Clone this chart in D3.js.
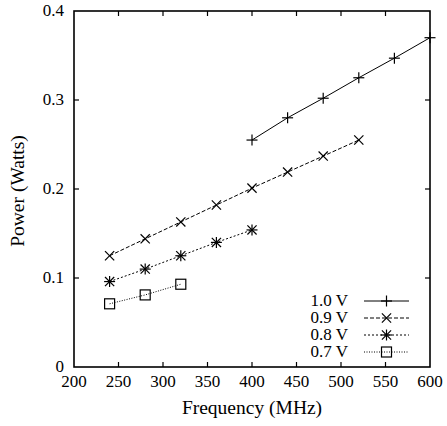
<!DOCTYPE html>
<html>
<head>
<meta charset="utf-8">
<script src="https://cdn.jsdelivr.net/npm/d3@7"></script>
<style>
  body { margin: 0; background: #fff; }
</style>
</head>
<body>
<svg id="chart"></svg>
<script>
// Power vs. frequency, one series per supply voltage

const xTicks = [200, 250, 300, 350, 400, 450, 500, 550, 600];
const yTicks = [0, 0.1, 0.2, 0.3, 0.4];

const freq10 = [400, 440, 480, 520, 560, 600];
const power10 = [0.255, 0.280, 0.302, 0.325, 0.347, 0.370];

const freq09 = [240, 280, 320, 360, 400, 440, 480, 520];
const power09 = [0.125, 0.144, 0.163, 0.182, 0.201, 0.219, 0.237, 0.255];

const freq08 = [240, 280, 320, 360, 400];
const power08 = [0.096, 0.110, 0.125, 0.140, 0.154];

const freq07 = [240, 280, 320];
const power07 = [0.071, 0.081, 0.093];

const labels = ["1.0 V", "0.9 V", "0.8 V", "0.7 V"];
const symbols = ["plus", "cross", "star", "square"];
const dashes = [null, "4,2", "2,2", "1,1.5"];

const series = [
  { label: labels[0], f: freq10, p: power10 },
  { label: labels[1], f: freq09, p: power09 },
  { label: labels[2], f: freq08, p: power08 },
  { label: labels[3], f: freq07, p: power07 }
].map((s, i) => ({ ...s, symbol: symbols[i], dash: dashes[i],
  points: s.f.map((f, j) => [f, s.p[j]]) }));

const width = 447, height = 426;
const margin = { top: 11, right: 17, bottom: 59, left: 74 };
const serif = "'Liberation Serif', 'Times New Roman', serif";

const svg = d3.select("#chart")
  .attr("width", width)
  .attr("height", height);

const x = d3.scaleLinear().domain([200, 600]).range([margin.left, width - margin.right]);
const y = d3.scaleLinear().domain([0, 0.4]).range([height - margin.bottom, margin.top]);

const tick = 5;

// ticks on all four sides, pointing inward
const tg = svg.append("g").attr("stroke", "#000").attr("stroke-width", 1.2);
tg.selectAll(".xb").data(xTicks.slice(1, -1)).join("line")
  .attr("x1", d => x(d)).attr("x2", d => x(d))
  .attr("y1", y(0)).attr("y2", y(0) - tick);
tg.selectAll(".xt").data(xTicks.slice(1, -1)).join("line")
  .attr("x1", d => x(d)).attr("x2", d => x(d))
  .attr("y1", y(0.4)).attr("y2", y(0.4) + tick);
tg.selectAll(".yl").data(yTicks.slice(1, -1)).join("line")
  .attr("x1", x(200)).attr("x2", x(200) + tick)
  .attr("y1", d => y(d)).attr("y2", d => y(d));
tg.selectAll(".yr").data(yTicks.slice(1, -1)).join("line")
  .attr("x1", x(600)).attr("x2", x(600) - tick)
  .attr("y1", d => y(d)).attr("y2", d => y(d));

// border
svg.append("rect")
  .attr("x", x(200)).attr("y", y(0.4))
  .attr("width", x(600) - x(200)).attr("height", y(0) - y(0.4))
  .attr("fill", "none").attr("stroke", "#000").attr("stroke-width", 1.6);

// tick labels
svg.append("g").selectAll("text").data(xTicks).join("text")
  .style("font-family", serif).style("font-size", "17px")
  .attr("text-anchor", "middle")
  .attr("x", d => x(d)).attr("y", y(0) + 20)
  .text(d => d);

svg.append("g").selectAll("text").data(yTicks).join("text")
  .style("font-family", serif).style("font-size", "17px")
  .attr("text-anchor", "end")
  .attr("x", x(200) - 10).attr("y", d => y(d)).attr("dy", "0.32em")
  .text(d => d === 0 ? "0" : d3.format(".1f")(d));

// axis titles
svg.append("text")
  .style("font-family", serif).style("font-size", "19.5px")
  .attr("x", (x(200) + x(600)) / 2).attr("y", height - 12)
  .attr("text-anchor", "middle")
  .text("Frequency (MHz)");

svg.append("text")
  .style("font-family", serif).style("font-size", "19.5px")
  .attr("transform", `translate(24,191) rotate(-90)`)
  .attr("text-anchor", "middle")
  .text("Power (Watts)");

function drawSymbol(g, type, cx, cy) {
  const s = 5.5;
  if (type === "plus" || type === "star") {
    g.append("line").attr("x1", cx - s).attr("x2", cx + s).attr("y1", cy).attr("y2", cy);
    g.append("line").attr("x1", cx).attr("x2", cx).attr("y1", cy - s).attr("y2", cy + s);
  }
  if (type === "cross" || type === "star") {
    const c = 4.6;
    g.append("line").attr("x1", cx - c).attr("x2", cx + c).attr("y1", cy - c).attr("y2", cy + c);
    g.append("line").attr("x1", cx - c).attr("x2", cx + c).attr("y1", cy + c).attr("y2", cy - c);
  }
  if (type === "square") {
    g.append("rect").attr("x", cx - 5).attr("y", cy - 5).attr("width", 10).attr("height", 10)
      .attr("fill", "none");
  }
}

const line = d3.line().x(d => x(d[0])).y(d => y(d[1]));

series.forEach(s => {
  const g = svg.append("g").attr("stroke", "#000").attr("stroke-width", 1).attr("fill", "none");
  g.append("path").attr("d", line(s.points)).attr("stroke-dasharray", s.dash);
  const mg = g.append("g").attr("stroke-width", 1.2);
  s.points.forEach(d => drawSymbol(mg, s.symbol, x(d[0]), y(d[1])));
});

// legend
const lx = 348, ly = 301, step = 17;
series.forEach((s, i) => {
  const yy = ly + i * step;
  svg.append("text").attr("x", lx).attr("y", yy).attr("dy", "0.32em")
    .style("font-family", serif).style("font-size", "17px")
    .attr("text-anchor", "end").text(s.label);
  const g = svg.append("g").attr("stroke", "#000").attr("stroke-width", 1).attr("fill", "none");
  g.append("line").attr("x1", 364).attr("x2", 409).attr("y1", yy).attr("y2", yy)
    .attr("stroke-dasharray", s.dash);
  drawSymbol(g.append("g").attr("stroke-width", 1.2), s.symbol, 386.5, yy);
});
</script>
</body>
</html>
